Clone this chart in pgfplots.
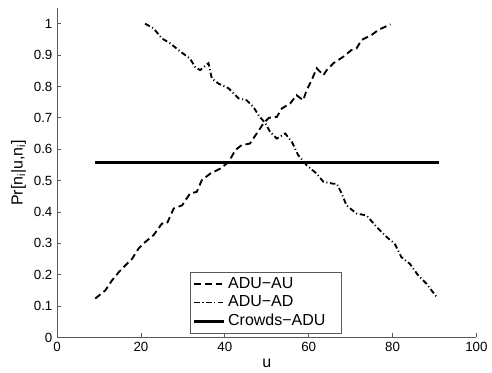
\documentclass[border=0pt]{standalone}
\usepackage{fontspec}
\setmainfont{Liberation Sans}
\usepackage{pgfplots}
\pgfplotsset{compat=1.18}
\begin{document}
\begin{tikzpicture}
\begin{axis}[
  width=315pt, height=247.5pt, scale only axis,
  xmin=0, xmax=100, ymin=0, ymax=1.05,
  axis x line=bottom, axis y line=left,
  axis line style={-, gray!70!black, line width=0.5pt},
  tick align=inside,
  tick style={gray!70!black, line width=0.5pt},
  major tick length=3pt,
  xtick={0,20,40,60,80,100},
  ytick={0,0.1,0.2,0.3,0.4,0.5,0.6,0.7,0.8,0.9,1},
  yticklabels={0,0.1,0.2,0.3,0.4,0.5,0.6,0.7,0.8,0.9,1},
  /pgf/number format/assume math mode=true,
  tick label style={font=\fontsize{10}{12}\selectfont},
  label style={font=\fontsize{12}{14}\selectfont},
  xlabel={u}, ylabel={Pr[n\textsubscript{i}|u,n\textsubscript{i}]},
  xlabel style={yshift=1pt},
  ylabel style={yshift=-1pt},
  legend cell align=left,
  legend style={at={(axis description cs:0.317,0.012)}, anchor=south west,
    draw=gray!70!black, line width=0.5pt, font=\fontsize{12}{14}\selectfont,
    inner sep=2pt, row sep=0pt},
  legend image post style={xscale=1.3},
]
\addplot[black, line width=1.4pt, dash pattern=on 5pt off 3pt] coordinates {
(9.1,0.124) (11.5,0.150) (13.1,0.182) (14.7,0.208) (16.3,0.230) (17.9,0.251)
(19.4,0.283) (21,0.304) (23,0.326) (25,0.363) (26.2,0.363) (27.8,0.411)
(29.8,0.421) (31.7,0.459) (33.3,0.464) (34.5,0.501) (36.5,0.522) (38.9,0.538)
(40.9,0.559) (42.5,0.597) (44,0.613) (46,0.618) (47.6,0.650) (49.2,0.682)
(50.5,0.700) (52.4,0.703) (53.6,0.730) (55.6,0.746) (57.1,0.772) (58.7,0.756)
(59.5,0.788) (60.7,0.820) (61.9,0.858) (63.5,0.836) (64.3,0.852) (65.9,0.874)
(68.3,0.895) (70.2,0.916) (71.4,0.921) (72.6,0.948) (75,0.964) (76.6,0.980) (79.5,0.998)
};
\addlegendentry{ADU\textminus AU}
\addplot[black, line width=1.4pt, dash pattern=on 4pt off 2pt on 0.8pt off 2pt] coordinates {
(21,1.0) (23,0.985) (25,0.953) (27,0.937) (29.4,0.911) (31.7,0.889) (32.9,0.862)
(34.1,0.852) (36.1,0.874) (36.9,0.825) (38.5,0.809) (40.9,0.794) (43.3,0.762)
(45.2,0.756) (46.8,0.735) (48.2,0.705) (49.6,0.684) (50.8,0.655) (52.4,0.634)
(54.4,0.650) (56,0.623) (57.5,0.581) (59.5,0.549) (61.9,0.522) (63.5,0.496)
(65.9,0.490) (66.7,0.490) (67.9,0.458) (69,0.421) (71.4,0.395) (73.8,0.389)
(76.2,0.352) (78.6,0.320) (80.5,0.299) (82.1,0.256) (84.1,0.235) (86.1,0.198)
(88.1,0.171) (90.5,0.129)
};
\addlegendentry{ADU\textminus AD}
\addplot[black, line width=2.2pt] coordinates {(9,0.558) (91,0.558)};
\addlegendentry{Crowds\textminus ADU\hspace*{8pt}}
\end{axis}
\path (current bounding box.west) ++(-5pt,0);
\path (current axis.north) ++(0,6pt);
\end{tikzpicture}
\end{document}
